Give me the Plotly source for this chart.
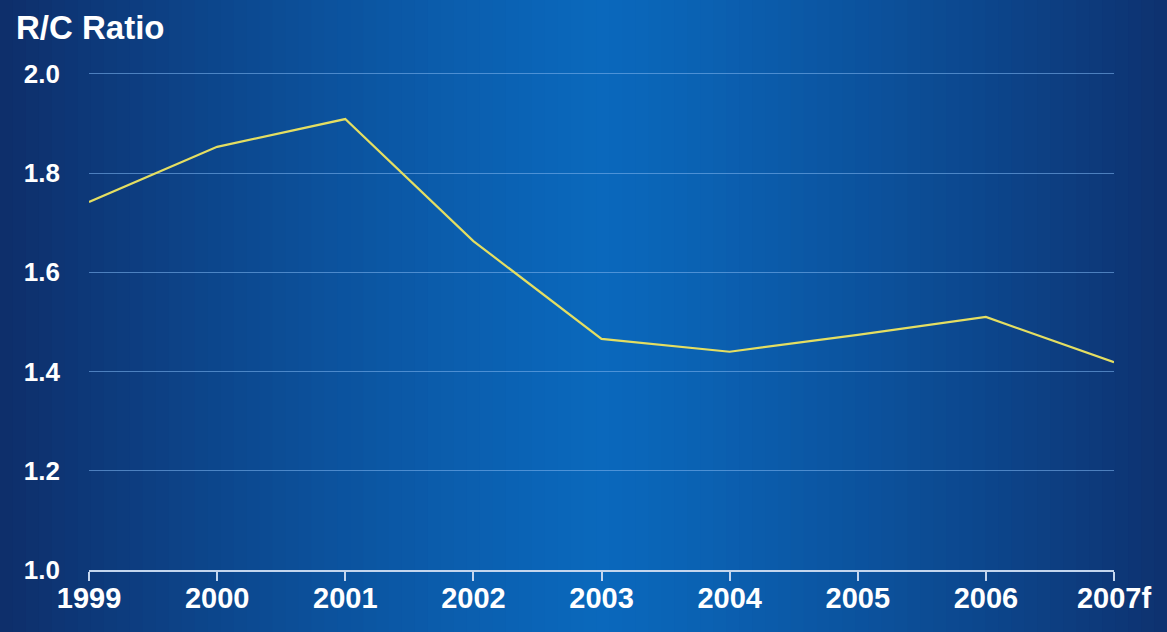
import plotly.graph_objects as go

years = ["1999", "2000", "2001", "2002", "2003", "2004", "2005", "2006", "2007f"]
rc_ratio = [1.742, 1.853, 1.909, 1.663, 1.466, 1.440, 1.474, 1.510, 1.419]
y_ticks = [1.0, 1.2, 1.4, 1.6, 1.8, 2.0]
y_tick_text = ["1.0", "1.2", "1.4", "1.6", "1.8", "2.0"]

W, H = 1167, 632
L, R, T, B = 89, 53, 64, 62
pw, ph = W - L - R, H - T - B

# background gradient (vertical strips)
center_c = (10, 104, 188)
edge_c = (14, 46, 106)
shapes = []
n = 90
for i in range(n):
    x0p = i * W / n
    x1p = (i + 1) * W / n + 1
    xc = (x0p + x1p) / 2
    d = min(1.0, abs(xc - 600) / 600)
    f = d ** 1.2
    col = tuple(int(round(c + (e - c) * f)) for c, e in zip(center_c, edge_c))
    shapes.append(dict(
        type="rect", layer="below", xref="paper", yref="paper",
        x0=(x0p - L) / pw, x1=(x1p - L) / pw,
        y0=-(B + 10) / ph, y1=(T + 10) / ph + 1,
        fillcolor="rgb(%d,%d,%d)" % col, line=dict(width=0),
    ))

xs = list(range(len(years)))

fig = go.Figure()
fig.add_trace(go.Scatter(
    x=xs, y=rc_ratio, mode="lines",
    line=dict(color="#e4de62", width=2.2),
    hoverinfo="skip", showlegend=False,
))

fig.update_layout(
    width=W, height=H,
    margin=dict(l=L, r=R, t=T, b=B),
    paper_bgcolor="rgb(14,46,106)",
    plot_bgcolor="rgba(0,0,0,0)",
    shapes=shapes,
    font=dict(family="Liberation Sans, Arial, sans-serif", color="white"),
    title=dict(
        text="<b>R/C Ratio</b>", xref="container", yref="container",
        x=16 / W, xanchor="left", y=1 - 27 / H, yanchor="middle",
        font=dict(size=33, color="white", family="Liberation Sans, Arial, sans-serif"),
    ),
    xaxis=dict(
        range=[0, 8], tickmode="array", tickvals=xs,
        ticktext=["<b>%s</b>" % y for y in years],
        showgrid=False, zeroline=False,
        showline=True, linecolor="#c4d6ee", linewidth=1.5,
        ticks="outside", ticklen=9, tickcolor="#c4d6ee", tickwidth=1.5,
        tickfont=dict(size=29, color="white"),
        ticklabelstandoff=-8,
    ),
    yaxis=dict(
        range=[1.0, 2.02], tickmode="array", tickvals=y_ticks,
        ticktext=["<b>%s</b>" % t for t in y_tick_text],
        showgrid=True, gridcolor="rgba(120,175,235,0.6)", gridwidth=1,
        zeroline=False, showline=False, ticks="",
        tickfont=dict(size=26, color="white"),
        ticklabelstandoff=28,
    ),
)

fig.write_html("out.html", config={"displayModeBar": False},
               post_script="document.body.style.margin='0';")
